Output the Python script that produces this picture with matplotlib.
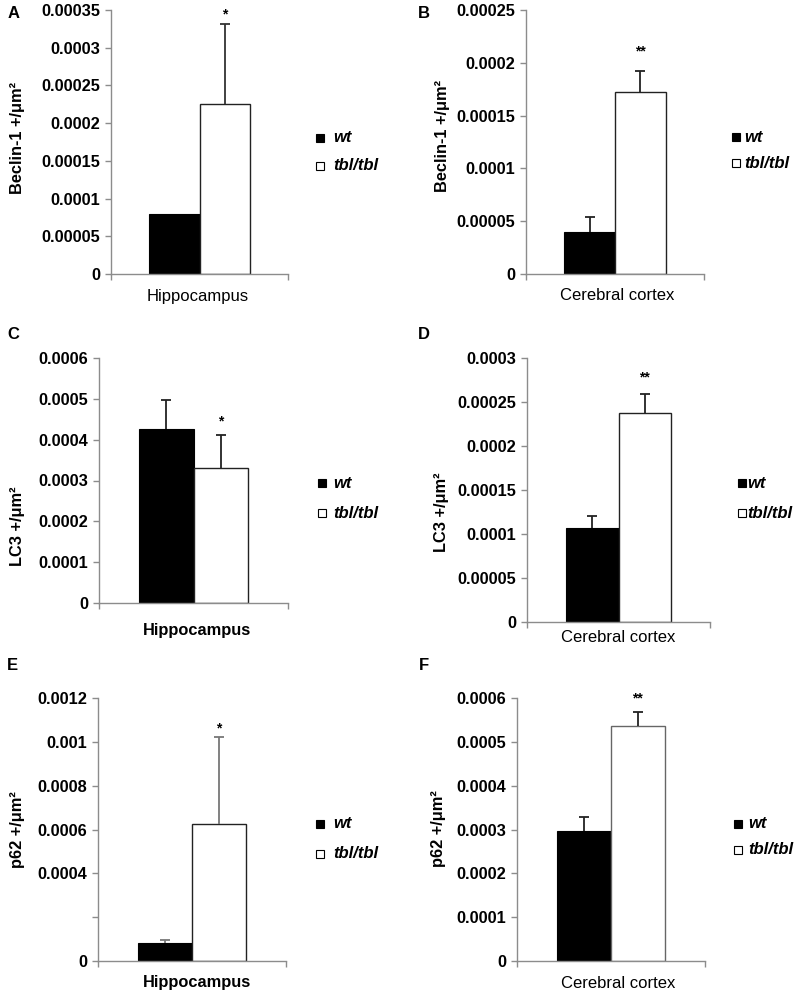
import matplotlib
matplotlib.use("Agg")
import matplotlib.pyplot as plt
from matplotlib.patches import Rectangle

plt.rcParams['font.family'] = ['Liberation Sans', 'DejaVu Sans']

# ---------------- data ----------------
panel_letters = ['A', 'B', 'C', 'D', 'E', 'F']
regions = ['Hippocampus', 'Cerebral cortex', 'Hippocampus', 'Cerebral cortex',
           'Hippocampus', 'Cerebral cortex']
ylabels = ['Beclin-1 +/\u03bcm\u00b2', 'Beclin-1 +/\u03bcm\u00b2',
           'LC3 +/\u03bcm\u00b2', 'LC3 +/\u03bcm\u00b2',
           'p62 +/\u03bcm\u00b2', 'p62 +/\u03bcm\u00b2']
series_names = ['wt', 'tbl/tbl']
wt_means = [0.000080, 0.000040, 0.000425, 0.000107, 0.000084, 0.000297]
wt_errs = [0.0, 0.000014, 0.000071, 0.000013, 0.000014, 0.000031]
tbl_means = [0.000225, 0.000172, 0.000331, 0.000238, 0.000627, 0.000537]
tbl_errs = [0.000106, 0.0000205, 0.000081, 0.000021, 0.000393, 0.000030]
significance = ['*', '**', '*', '**', '*', '**']

ticks_A = [0, 0.00005, 0.0001, 0.00015, 0.0002, 0.00025, 0.0003, 0.00035]
labels_A = ['0', '0.00005', '0.0001', '0.00015', '0.0002', '0.00025', '0.0003', '0.00035']
ticks_B = [0, 0.00005, 0.0001, 0.00015, 0.0002, 0.00025]
labels_B = ['0', '0.00005', '0.0001', '0.00015', '0.0002', '0.00025']
ticks_C = [0, 0.0001, 0.0002, 0.0003, 0.0004, 0.0005, 0.0006]
labels_C = ['0', '0.0001', '0.0002', '0.0003', '0.0004', '0.0005', '0.0006']
ticks_D = [0, 0.00005, 0.0001, 0.00015, 0.0002, 0.00025, 0.0003]
labels_D = ['0', '0.00005', '0.0001', '0.00015', '0.0002', '0.00025', '0.0003']
ticks_E = [0, 0.0002, 0.0004, 0.0006, 0.0008, 0.001, 0.0012]
labels_E = ['0', '', '0.0004', '0.0006', '0.0008', '0.001', '0.0012']
ticks_F = [0, 0.0001, 0.0002, 0.0003, 0.0004, 0.0005, 0.0006]
labels_F = ['0', '0.0001', '0.0002', '0.0003', '0.0004', '0.0005', '0.0006']
all_ticks = [ticks_A, ticks_B, ticks_C, ticks_D, ticks_E, ticks_F]
all_labels = [labels_A, labels_B, labels_C, labels_D, labels_E, labels_F]

# ---------------- layout (pixels, from top-left) ----------------
W, H = 798, 1000
# left, right, top(ymax), bottom(y=0)
boxes = [(111, 288, 10, 274), (526, 704, 10, 274),
         (99, 288, 358, 603), (527, 710, 358, 622),
         (98, 286, 698, 961), (517, 705, 698, 961)]
ylabel_pos = [(18, 138), (442, 136), (18, 526), (441, 512), (18, 830), (439, 829)]
xlabel_pos = [(198, 296), (617, 296), (197, 630), (618, 638), (197, 983), (618, 983)]
xlabel_weight = ['normal', 'normal', 'bold', 'normal', 'bold', 'normal']
letter_pos = [(8, 13), (418, 13), (7, 334), (418, 334), (7, 665), (419, 665)]
# legend: square centre x, text start x, y wt, y tbl
legend_pos = [(320, 333, 138, 166), (736, 744, 137, 163),
              (322, 333, 483, 513), (742, 747, 483, 513),
              (320, 333, 824, 854), (738, 748, 824, 850)]
star_offset = [10, 19, 13, 17, 9, 14]
err_colors = ['#333333', '#222222', '#222222', '#222222', '#777777', '#222222']
white_edge = ['#222222', '#222222', '#222222', '#222222', '#222222', '#666666']

bar_w = 0.286
axis_gray = '#8c8c8c'

fig = plt.figure(figsize=(W / 100, H / 100), dpi=100)


def fx(x):
    return x / W


def fy(y):
    return 1 - y / H


def up_error(ax, x, mean, err, color):
    eb = ax.errorbar(x, mean, yerr=[[0], [err]], fmt='none', ecolor=color,
                     elinewidth=1.3, capsize=3.5, capthick=1.3, zorder=3)
    caps = eb[1]
    if len(caps) >= 2:
        caps[0].set_visible(False)


for i in range(6):
    l, r, t, b = boxes[i]
    ax = fig.add_axes([fx(l), fy(b), (r - l) / W, (b - t) / H])
    ymax = all_ticks[i][-1]
    ax.set_xlim(-0.5, 0.5)
    ax.set_ylim(0, ymax)
    ax.bar(-bar_w / 2, wt_means[i], bar_w, color='black', edgecolor='black',
           linewidth=0.8, zorder=2)
    ax.bar(bar_w / 2, tbl_means[i], bar_w, color='white', edgecolor=white_edge[i],
           linewidth=1.0, zorder=2)
    if wt_errs[i] > 0:
        up_error(ax, -bar_w / 2, wt_means[i], wt_errs[i], err_colors[i])
    up_error(ax, bar_w / 2, tbl_means[i], tbl_errs[i], err_colors[i])
    ax.annotate(significance[i], (bar_w / 2, tbl_means[i] + tbl_errs[i]),
                xytext=(0, star_offset[i]), textcoords='offset pixels',
                ha='center', va='center', fontsize=10, fontweight='bold')
    for s in ['top', 'right']:
        ax.spines[s].set_visible(False)
    for s in ['left', 'bottom']:
        ax.spines[s].set_color(axis_gray)
        ax.spines[s].set_linewidth(1.0)
    ax.set_yticks(all_ticks[i])
    ax.set_yticklabels(all_labels[i], fontsize=11.8, fontweight='bold')
    ax.set_xticks([-0.5, 0.5])
    ax.set_xticklabels(['', ''])
    ax.tick_params(axis='both', direction='out', length=4, color=axis_gray,
                   width=1.0, pad=4)

    fig.text(fx(ylabel_pos[i][0]), fy(ylabel_pos[i][1]), ylabels[i], rotation=90,
             ha='center', va='center', fontsize=11.8, fontweight='bold')
    fig.text(fx(xlabel_pos[i][0]), fy(xlabel_pos[i][1]), regions[i],
             ha='center', va='center', fontsize=12 if xlabel_weight[i] == 'normal' else 11.8,
             fontweight=xlabel_weight[i])
    fig.text(fx(letter_pos[i][0]), fy(letter_pos[i][1]), panel_letters[i],
             ha='left', va='center', fontsize=12, fontweight='bold')

    sq_x, tx, y_wt, y_tbl = legend_pos[i]
    sq = 8.5
    for yy, fc, name in [(y_wt, 'black', series_names[0]),
                         (y_tbl, 'white', series_names[1])]:
        fig.add_artist(Rectangle((fx(sq_x - sq / 2), fy(yy + sq / 2)), sq / W, sq / H,
                                 facecolor=fc, edgecolor='black', linewidth=0.8,
                                 transform=fig.transFigure))
        fig.text(fx(tx), fy(yy), name, ha='left', va='center', fontsize=12,
                 fontweight='bold', fontstyle='italic')

fig.savefig('out.png', dpi=100)
